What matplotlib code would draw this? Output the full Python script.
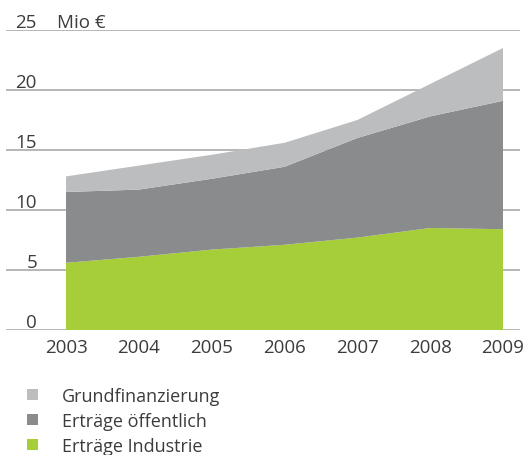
import matplotlib

matplotlib.use("Agg")
import matplotlib.pyplot as plt
from matplotlib.patches import Rectangle

# values (Mio €), cumulative tops converted to layers
years = [2003, 2004, 2005, 2006, 2007, 2008, 2009]
industrie = [5.6, 6.1, 6.7, 7.1, 7.7, 8.5, 8.4]
oeffentlich = [5.9, 5.6, 5.9, 6.5, 8.3, 9.3, 10.7]
grund = [1.3, 2.0, 2.0, 2.0, 1.5, 2.7, 4.4]

labels = ["Erträge Industrie", "Erträge öffentlich", "Grundfinanzierung"]
colors = ["#a6ce39", "#8a8b8d", "#bcbdbf"]
y_ticks = [0, 5, 10, 15, 20, 25]
unit = "Mio €"

plt.rcParams["font.family"] = ["Open Sans", "DejaVu Sans"]
text_color = "#3c3c3c"
W, H = 527, 456

fig = plt.figure(figsize=(W / 100, H / 100), dpi=100)
ax = fig.add_axes([6 / W, 125 / H, 514 / W, 300 / H])

for v in y_ticks:
    ax.axhline(v, color="#a3a3a3", linewidth=1.1, zorder=0)

polys = ax.stackplot(years, industrie, oeffentlich, grund,
                     colors=colors, labels=labels, linewidth=0, zorder=2)

ax.set_xlim(2003 - 60 / 72.83, 2009 + 17 / 72.83)
ax.set_ylim(0, 25)

for s in ax.spines.values():
    s.set_visible(False)
ax.set_yticks([])
ax.set_xticks(years)
ax.set_xticklabels([str(y) for y in years], fontsize=13.5, color=text_color)
ax.tick_params(axis="x", length=0, pad=6)

for v in y_ticks:
    ax.text(31 / 514, v + 0.25, str(v), transform=ax.get_yaxis_transform(),
            ha="right", va="baseline", fontsize=13.5, color=text_color)
ax.text(51 / 514, 25.25, unit, transform=ax.get_yaxis_transform(),
        ha="left", va="baseline", fontsize=13.5, color=text_color)

# legend, top to bottom: Grundfinanzierung, öffentlich, Industrie
for i, (lab, col) in enumerate(zip(labels[::-1], colors[::-1])):
    yc = 395 + 25 * i
    fig.patches.append(Rectangle((27 / W, 1 - (yc + 5.5) / H), 11 / W, 11 / H,
                                 transform=fig.transFigure, facecolor=col,
                                 edgecolor="none"))
    fig.text(62 / W, 1 - yc / H, lab, ha="left", va="center_baseline",
             fontsize=13, color=text_color)

fig.savefig("out.png", dpi=100)
